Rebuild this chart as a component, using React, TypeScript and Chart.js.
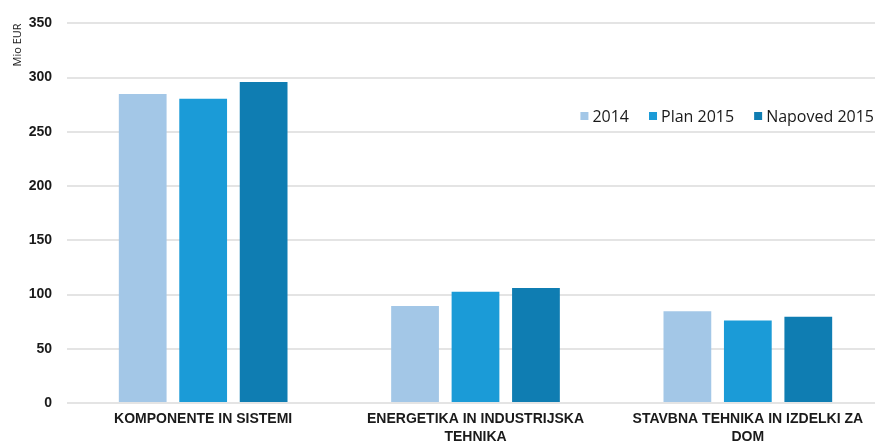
import React, { useEffect, useRef } from "react";
import { Chart, registerables } from "chart.js";

Chart.register(...registerables);

const categories: string[][] = [
  ["KOMPONENTE IN SISTEMI"],
  ["ENERGETIKA IN INDUSTRIJSKA", "TEHNIKA"],
  ["STAVBNA TEHNIKA IN IZDELKI ZA", "DOM"],
];
const seriesNames = ["2014", "Plan 2015", "Napoved 2015"];
const values2014 = [285, 89.5, 84.5];
const valuesPlan2015 = [280.5, 102.5, 76];
const valuesNapoved2015 = [296, 106, 79.5];
const seriesColors = ["#a3c7e7", "#1b9bd7", "#0f7db2"];
const yTicks = [0, 50, 100, 150, 200, 250, 300, 350];
const yTitle = "Mio EUR";

const legendPlugin = {
  id: "customLegend",
  afterDraw(chart: any) {
    const ctx = chart.ctx;
    ctx.save();
    ctx.font = "16px 'Open Sans'";
    ctx.textBaseline = "middle";
    const y = 116;
    const box = 8;
    const gap = 4;
    const itemGap = 20;
    const ds = chart.data.datasets;
    const widths = ds.map((d: any) => box + gap + ctx.measureText(d.label).width);
    const total = widths.reduce((a: number, b: number) => a + b, 0) + itemGap * (ds.length - 1);
    let x = 874 - total;
    ds.forEach((d: any, i: number) => {
      ctx.fillStyle = d.backgroundColor;
      ctx.fillRect(x, y - box / 2, box, box);
      ctx.fillStyle = "#1a1a1a";
      ctx.textAlign = "left";
      ctx.fillText(d.label, x + box + gap, y + 1);
      x += widths[i] + itemGap;
    });
    ctx.restore();
  },
};

export default function App() {
  const ref = useRef<HTMLCanvasElement>(null);
  useEffect(() => {
    if (!ref.current) return;
    const chart = new Chart(ref.current, {
      type: "bar",
      data: {
        labels: categories,
        datasets: [
          { label: seriesNames[0], data: values2014, backgroundColor: seriesColors[0] },
          { label: seriesNames[1], data: valuesPlan2015, backgroundColor: seriesColors[1] },
          { label: seriesNames[2], data: valuesNapoved2015, backgroundColor: seriesColors[2] },
        ],
      },
      options: {
        animation: false,
        responsive: false,
        maintainAspectRatio: false,
        layout: { padding: { top: 19, right: 6, left: 0, bottom: 0 } },
        datasets: { bar: { categoryPercentage: 0.666, barPercentage: 0.79 } },
        plugins: { legend: { display: false }, tooltip: { enabled: false } },
        scales: {
          x: {
            grid: { display: false, drawTicks: false },
            border: { display: false },
            ticks: {
              color: "#1a1a1a",
              font: { family: "'Liberation Sans'", size: 14, weight: "bold", lineHeight: 1.29 },
              padding: 7,
              maxRotation: 0,
              autoSkip: false,
            },
            afterFit(scale: any) {
              scale.height = 40;
            },
          },
          y: {
            min: 0,
            max: 350,
            afterBuildTicks(scale: any) {
              scale.ticks = yTicks.map((v) => ({ value: v }));
            },
            grid: { color: "#e4e4e4", lineWidth: 2, drawTicks: false },
            border: { display: false },
            ticks: {
              color: "#1a1a1a",
              font: { family: "'Liberation Sans'", size: 14, weight: "bold" },
              padding: 15,
            },
            title: {
              display: true,
              text: yTitle,
              align: "end",
              color: "#1a1a1a",
              font: { family: "'Open Sans'", size: 11 },
              padding: { top: 11, bottom: 0 },
            },
            afterFit(scale: any) {
              scale.width = 67;
            },
          },
        },
      },
      plugins: [legendPlugin],
    } as any);
    return () => chart.destroy();
  }, []);
  return (
    <div style={{ width: 875, height: 443, overflow: "hidden", position: "fixed", left: 0, top: 0 }}>
      <canvas ref={ref} width={890} height={443} style={{ display: "block", width: 890, height: 443 }} />
    </div>
  );
}
